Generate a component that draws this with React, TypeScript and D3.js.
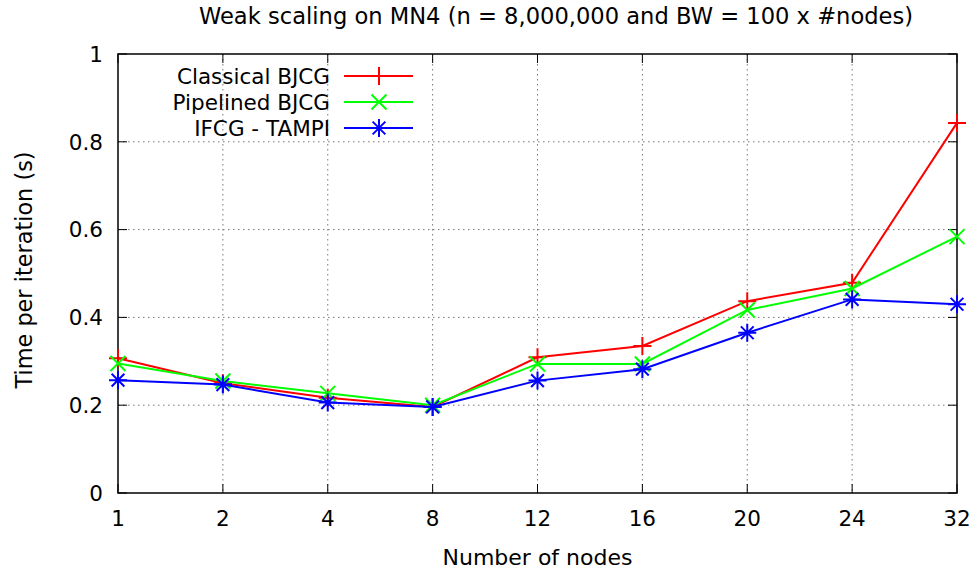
import React from "react";
import * as d3 from "d3";

const categories = ["1", "2", "4", "8", "12", "16", "20", "24", "32"];
const classical = [0.307, 0.25, 0.217, 0.196, 0.309, 0.335, 0.437, 0.479, 0.843];
const pipelined = [0.295, 0.255, 0.227, 0.2, 0.294, 0.294, 0.417, 0.466, 0.584];
const ifcg = [0.257, 0.247, 0.206, 0.196, 0.256, 0.282, 0.365, 0.441, 0.43];
const yTicks = [0, 0.2, 0.4, 0.6, 0.8, 1];
const yTickLabels = ["0", "0.2", "0.4", "0.6", "0.8", "1"];
const seriesNames = ["Classical BJCG", "Pipelined BJCG", "IFCG - TAMPI"];
const seriesColors = ["#ff0000", "#00ff00", "#0000ff"];
const seriesMarkers = ["plus", "cross", "star"];
const seriesData = [classical, pipelined, ifcg];

const W = 974, H = 572;
const L = 118, R = 957, T = 54, B = 493;
const FONT = "DejaVu Sans, sans-serif";

function Marker({ type, x, y, color }: { type: string; x: number; y: number; color: string }) {
  const s = 9;
  const d = 7.5;
  let path = "";
  if (type === "plus") path = `M${x - s},${y}H${x + s}M${x},${y - s}V${y + s}`;
  else if (type === "cross") path = `M${x - d},${y - d}L${x + d},${y + d}M${x - d},${y + d}L${x + d},${y - d}`;
  else path = `M${x - s},${y}H${x + s}M${x},${y - s}V${y + s}M${x - d * 0.85},${y - d * 0.85}L${x + d * 0.85},${y + d * 0.85}M${x - d * 0.85},${y + d * 0.85}L${x + d * 0.85},${y - d * 0.85}`;
  return <path d={path} stroke={color} strokeWidth={2} fill="none" />;
}

export default function App() {
  const x = d3.scalePoint<string>().domain(categories).range([L, R]);
  const y = d3.scaleLinear().domain([0, 1]).range([B, T]);
  const line = d3
    .line<number>()
    .x((_, i) => x(categories[i]) as number)
    .y((v) => y(v));

  return (
    <svg width={W} height={H} style={{ position: "absolute", left: 0, top: 0, background: "#fff" }} fontFamily={FONT}>
      {/* grid */}
      {yTicks.slice(1, -1).map((t) => (
        <line key={"gy" + t} x1={L} x2={R} y1={y(t)} y2={y(t)} stroke="#777" strokeWidth={1} strokeDasharray="1.5,3.5" />
      ))}
      {categories.slice(1, -1).map((c) => (
        <line key={"gx" + c} x1={x(c)} x2={x(c)} y1={T} y2={B} stroke="#777" strokeWidth={1} strokeDasharray="1.5,3.5" />
      ))}
      {/* ticks */}
      {yTicks.map((t) => (
        <g key={"ty" + t}>
          <line x1={L} x2={L + 9} y1={y(t)} y2={y(t)} stroke="#000" />
          <line x1={R - 9} x2={R} y1={y(t)} y2={y(t)} stroke="#000" />
        </g>
      ))}
      {categories.map((c) => (
        <g key={"tx" + c}>
          <line x1={x(c)} x2={x(c)} y1={B} y2={B - 9} stroke="#000" />
          <line x1={x(c)} x2={x(c)} y1={T} y2={T + 9} stroke="#000" />
        </g>
      ))}
      <rect x={L} y={T} width={R - L} height={B - T} fill="none" stroke="#000" strokeWidth={1.5} />
      {/* tick labels */}
      {yTicks.map((t, i) => (
        <text key={"ly" + t} x={103} y={y(t)} dy="0.36em" textAnchor="end" fontSize={21.5} fill="#000">
          {yTickLabels[i]}
        </text>
      ))}
      {categories.map((c) => (
        <text key={"lx" + c} x={x(c)} y={526} textAnchor="middle" fontSize={21.5} fill="#000">
          {c}
        </text>
      ))}
      {/* series */}
      {seriesData.map((data, si) => (
        <g key={"s" + si}>
          <path d={line(data) || ""} stroke={seriesColors[si]} strokeWidth={2} fill="none" />
          {data.map((v, i) => (
            <Marker key={i} type={seriesMarkers[si]} x={x(categories[i]) as number} y={y(v)} color={seriesColors[si]} />
          ))}
        </g>
      ))}
      {/* legend */}
      {seriesNames.map((n, i) => {
        const ly = 76 + i * 26;
        return (
          <g key={"lg" + i}>
            <text x={330} y={ly} dy="0.36em" textAnchor="end" fontSize={21.5} fill="#000">
              {n}
            </text>
            <line x1={344} x2={413} y1={ly} y2={ly} stroke={seriesColors[i]} strokeWidth={2} />
            <Marker type={seriesMarkers[i]} x={379} y={ly} color={seriesColors[i]} />
          </g>
        );
      })}
      {/* titles */}
      <text x={556} y={23.5} textAnchor="middle" fontSize={22.6} fill="#000">
        Weak scaling on MN4 (n = 8,000,000 and BW = 100 x #nodes)
      </text>
      <text x={(L + R) / 2} y={565} textAnchor="middle" fontSize={22} fill="#000">
        Number of nodes
      </text>
      <text transform={`translate(31.5,270) rotate(-90)`} textAnchor="middle" fontSize={22.4} fill="#000">
        Time per iteration (s)
      </text>
    </svg>
  );
}
